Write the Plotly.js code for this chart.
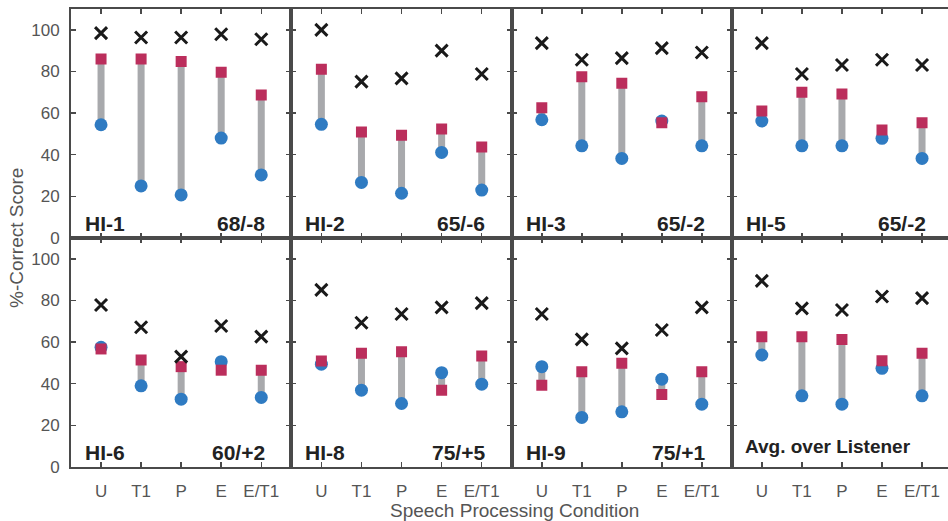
<!DOCTYPE html>
<html>
<head>
<meta charset="utf-8">
<script src="https://cdn.plot.ly/plotly-3.0.1.min.js"></script>
<style>html,body{margin:0;padding:0;background:#fff;}#chart{width:948px;height:521px;}</style>
</head>
<body>
<div id="chart"></div>
<script>
const categories = ['U', 'T1', 'P', 'E', 'E/T1'];
const panelNames = ['HI-1', 'HI-2', 'HI-3', 'HI-5', 'HI-6', 'HI-8', 'HI-9', 'Avg. over Listener'];
const panelLevels = ['68/-8', '65/-6', '65/-2', '65/-2', '60/+2', '75/+5', '75/+1', ''];
const yTickValues = [0, 20, 40, 60, 80, 100];

// black crosses
const crossScores = [
  [98.4, 96.3, 96.3, 97.9, 95.5],
  [100.0, 75.1, 76.7, 90.0, 78.8],
  [93.6, 85.6, 86.4, 91.2, 89.1],
  [93.6, 78.8, 83.1, 85.6, 83.1],
  [77.8, 67.1, 53.0, 67.7, 62.6],
  [85.1, 69.3, 73.5, 76.7, 78.7],
  [73.5, 61.3, 57.0, 65.8, 76.7],
  [89.4, 76.2, 75.4, 81.9, 81.1]
];
// red squares
const squareScores = [
  [86.0, 86.0, 84.8, 79.6, 68.7],
  [81.1, 50.9, 49.4, 52.3, 43.7],
  [62.6, 77.4, 74.3, 55.4, 67.9],
  [61.0, 70.0, 69.2, 51.9, 55.4],
  [56.7, 51.4, 48.2, 46.5, 46.5],
  [50.9, 54.6, 55.4, 36.9, 53.3],
  [39.3, 45.7, 49.8, 34.8, 45.7],
  [62.6, 62.6, 61.3, 51.0, 54.6]
];
// blue circles
const circleScores = [
  [54.4, 25.0, 20.7, 48.0, 30.3],
  [54.6, 26.7, 21.5, 41.1, 23.0],
  [56.8, 44.3, 38.2, 56.2, 44.3],
  [56.2, 44.3, 44.3, 47.9, 38.2],
  [57.5, 39.0, 32.6, 50.6, 33.4],
  [49.4, 36.9, 30.5, 45.3, 39.8],
  [48.2, 23.8, 26.5, 42.2, 30.2],
  [53.8, 34.2, 30.2, 47.4, 34.2]
];

const BLUE = '#2f7bc2';
const RED = '#bb2e5c';
const GRAY = '#a8a9ac';
const AXIS = '#4a4a4a';
const FONT = 'Liberation Sans, Arial, Helvetica, sans-serif';

const L = 71, R = 948, T = 9, B = 466.7;
const W = R - L, H = B - T;
const colPx = [71, 291.3, 511.8, 731.8, 948];
const pxPerUnit = 40.05;

const traces = [];
const layout = {
  width: 948, height: 521,
  margin: {l: L, r: 0, t: T, b: 521 - B},
  paper_bgcolor: '#fff', plot_bgcolor: '#fff',
  showlegend: false,
  font: {family: FONT, color: '#555'},
  annotations: []
};

for (let i = 0; i < 8; i++) {
  const row = Math.floor(i / 4), col = i % 4;
  const xa = i === 0 ? 'x' : 'x' + (i + 1);
  const ya = i === 0 ? 'y' : 'y' + (i + 1);
  const xKey = i === 0 ? 'xaxis' : 'xaxis' + (i + 1);
  const yKey = i === 0 ? 'yaxis' : 'yaxis' + (i + 1);

  // gray connectors
  const lx = [], ly = [];
  categories.forEach((c, k) => {
    lx.push(c, c, null);
    ly.push(circleScores[i][k], squareScores[i][k], null);
  });
  traces.push({type: 'scatter', mode: 'lines', x: lx, y: ly, xaxis: xa, yaxis: ya,
    line: {color: GRAY, width: 7}, hoverinfo: 'skip', connectgaps: false});
  traces.push({type: 'scatter', mode: 'markers', x: categories, y: circleScores[i], xaxis: xa, yaxis: ya,
    marker: {symbol: 'circle', size: 13, color: BLUE, line: {width: 0}}});
  traces.push({type: 'scatter', mode: 'markers', x: categories, y: squareScores[i], xaxis: xa, yaxis: ya,
    marker: {symbol: 'square', size: 11, color: RED, line: {width: 0}}});
  traces.push({type: 'scatter', mode: 'markers', x: categories, y: crossScores[i], xaxis: xa, yaxis: ya,
    marker: {symbol: 'x-thin', size: 12, color: '#1a1a1a', line: {width: 3, color: '#1a1a1a'}}});

  const x0 = (colPx[col] - L) / W, x1 = (colPx[col + 1] - L) / W;
  const rangeEnd = col === 3 ? -0.75 + (colPx[4] - colPx[3]) / pxPerUnit : 4.75;
  layout[xKey] = {
    domain: [x0, x1], anchor: ya, type: 'category',
    range: [-0.75, rangeEnd], fixedrange: true,
    showline: true, linecolor: AXIS, linewidth: 2, mirror: 'ticks',
    ticks: 'inside', ticklen: 5, tickwidth: 1.5, tickcolor: AXIS,
    showgrid: false, zeroline: false,
    showticklabels: row === 1, ticklabelstandoff: 8,
    tickfont: {family: FONT, size: 17, color: '#555'}
  };
  layout[yKey] = {
    domain: row === 0 ? [0.5, 1] : [0, 0.5], anchor: xa,
    range: [0, 110], fixedrange: true,
    tickvals: yTickValues,
    showline: true, linecolor: AXIS, linewidth: 2, mirror: col === 3 ? false : 'ticks',
    ticks: 'inside', ticklen: 5, tickwidth: 1.5, tickcolor: AXIS,
    showgrid: false, zeroline: false,
    showticklabels: col === 0, ticklabelstandoff: 6,
    tickfont: {family: FONT, size: 17, color: '#555'}
  };

  if (i < 7) {
    layout.annotations.push({xref: xa, yref: ya, x: -0.45, y: 7.2, xanchor: 'left', yanchor: 'middle',
      text: panelNames[i], showarrow: false, font: {family: FONT, size: 21, color: '#222', weight: 'bold'}});
    layout.annotations.push({xref: xa, yref: ya, x: 4.14, y: 7.2, xanchor: 'right', yanchor: 'middle',
      text: panelLevels[i], showarrow: false, font: {family: FONT, size: 21, color: '#222', weight: 'bold'}});
  } else {
    layout.annotations.push({xref: xa, yref: ya, x: -0.47, y: 10, xanchor: 'left', yanchor: 'middle',
      text: panelNames[i], showarrow: false, font: {family: FONT, size: 19, color: '#222', weight: 'bold'}});
  }
}

layout.annotations.push({xref: 'paper', yref: 'paper', x: (514 - L) / W, y: -43 / H,
  xanchor: 'center', yanchor: 'middle', text: 'Speech Processing Condition', showarrow: false,
  font: {family: FONT, size: 19, color: '#555'}});
layout.annotations.push({xref: 'paper', yref: 'paper', x: (16 - L) / W, y: 0.5,
  xanchor: 'center', yanchor: 'middle', textangle: -90, text: '%-Correct Score', showarrow: false,
  font: {family: FONT, size: 19, color: '#555'}});

Plotly.newPlot('chart', traces, layout, {staticPlot: true, displayModeBar: false});
</script>
</body>
</html>
